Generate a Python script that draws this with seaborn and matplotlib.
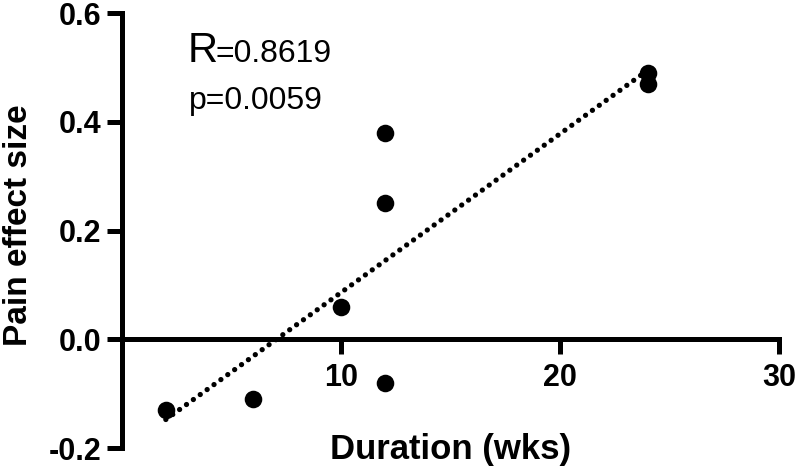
import matplotlib
matplotlib.use("Agg")
import matplotlib.pyplot as plt
import pandas as pd
import seaborn as sns

# values
duration_wks = [2, 6, 10, 12, 12, 12, 24, 24]
pain_effect = [-0.13, -0.11, 0.06, 0.38, 0.25, -0.08, 0.49, 0.47]

x_ticks = [10, 20, 30]
y_ticks = [-0.2, 0.0, 0.2, 0.4, 0.6]
y_tick_labels = ["-0.2", "0.0", "0.2", "0.4", "0.6"]

r_text = "=0.8619"
p_text = "p=0.0059"


def plot_duration_vs_pain(data):
    """
    Scatter of pain effect size against duration with a dotted fit line.
    """

    fig = plt.figure(figsize=(7.96, 4.68), dpi=100)
    ax = fig.add_axes([0.1533, 0.0427, 0.8254, 0.9295])

    sns.regplot(
        x="duration", y="effect", data=data, ax=ax, ci=None, truncate=True,
        scatter_kws={"s": 160, "color": "black", "linewidths": 0, "alpha": 1},
        line_kws={"color": "black", "lw": 3.8, "linestyle": (0, (0.01, 1.6)),
                  "dash_capstyle": "round"},
    )

    ax.set_xlim(0, 30)
    ax.set_ylim(-0.2, 0.6)

    # x axis crosses at y = 0, y axis at x = 0
    ax.spines["bottom"].set_position(("data", 0))
    ax.spines["top"].set_visible(False)
    ax.spines["right"].set_visible(False)
    for side in ["left", "bottom"]:
        ax.spines[side].set_linewidth(3.6)
        ax.spines[side].set_color("black")
        ax.spines[side].set_capstyle("projecting")

    ax.set_xticks(x_ticks)
    ax.set_xticklabels([str(t) for t in x_ticks], fontsize=22, fontweight="bold")
    ax.set_yticks(y_ticks)
    ax.set_yticklabels(y_tick_labels, fontsize=22, fontweight="bold")
    ax.tick_params(axis="both", colors="black")
    ax.tick_params(axis="x", direction="out", length=11, width=3.6, pad=6)
    ax.tick_params(axis="y", direction="out", length=11, width=3.6, pad=3.6)

    ax.set_xlabel("Duration (wks)", fontsize=25, fontweight="bold",
                  va="baseline", color="black")
    ax.xaxis.set_label_coords(0.5, -0.025)
    ax.set_ylabel("Pain effect size", fontsize=24, fontweight="bold",
                  va="center", color="black")
    ax.yaxis.set_label_coords(-0.158, 0.513)

    ax.text(3.0, 0.509, "R", fontsize=30, va="baseline", color="black")
    ax.text(4.29, 0.509, r_text, fontsize=23, va="baseline", color="black")
    ax.text(3.05, 0.423, p_text, fontsize=23, va="baseline", color="black")

    fig.savefig("out.png", dpi=100)


sns.set_style("ticks")
plt.rcParams["font.family"] = ["Liberation Sans", "DejaVu Sans"]

df = pd.DataFrame({"duration": duration_wks, "effect": pain_effect})
plot_duration_vs_pain(df)
